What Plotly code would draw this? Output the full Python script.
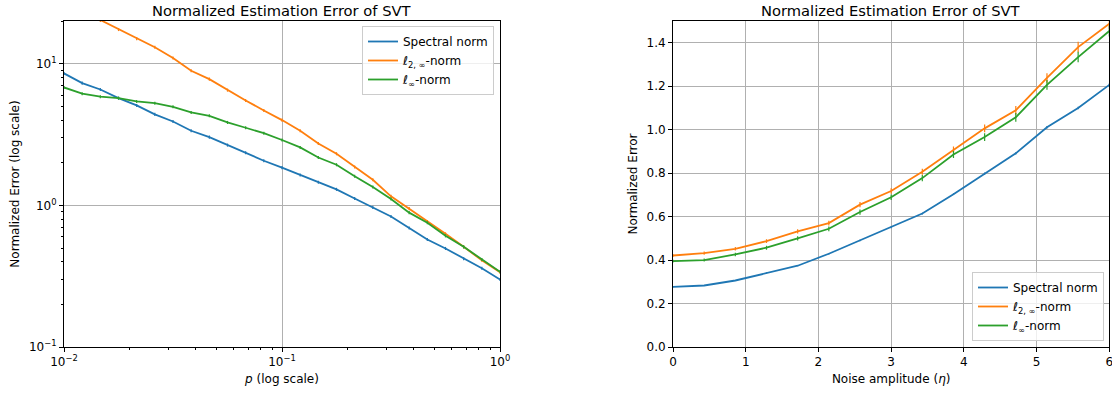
import numpy as np
import plotly.graph_objects as go

# ---------------- data ----------------
p_values = [10 ** (-2 + 2 * i / 24) for i in range(25)]
spectral_p = [8.57, 7.32, 6.6, 5.73, 5.09, 4.40, 3.92, 3.37, 3.04, 2.67, 2.36, 2.07, 1.85,
              1.64, 1.46, 1.30, 1.12, 0.97, 0.836, 0.693, 0.575, 0.497, 0.42, 0.36, 0.30]
l2inf_p = [27.5, 23.7, 20.3, 17.5, 15.1, 13.1, 11.0, 8.95, 7.81, 6.53, 5.52, 4.69, 4.01,
           3.37, 2.74, 2.32, 1.87, 1.52, 1.16, 0.95, 0.77, 0.63, 0.51, 0.41, 0.338]
linf_p = [6.82, 6.16, 5.87, 5.73, 5.43, 5.28, 4.98, 4.54, 4.30, 3.86, 3.54, 3.24, 2.90,
          2.57, 2.18, 1.94, 1.61, 1.35, 1.11, 0.89, 0.755, 0.61, 0.51, 0.415, 0.34]

eta_values = [6 * i / 14 for i in range(15)]
spectral_eta = [0.277, 0.283, 0.306, 0.341, 0.374, 0.429, 0.490, 0.550, 0.614, 0.703,
                0.798, 0.891, 1.011, 1.100, 1.206]
l2inf_eta = [0.421, 0.432, 0.452, 0.487, 0.532, 0.570, 0.655, 0.718, 0.806, 0.907,
             1.006, 1.089, 1.238, 1.380, 1.487]
linf_eta = [0.395, 0.400, 0.426, 0.457, 0.500, 0.544, 0.621, 0.689, 0.777, 0.886,
            0.966, 1.057, 1.206, 1.334, 1.454]
spectral_eta_err = [0.002, 0.002, 0.002, 0.003, 0.003, 0.003, 0.003, 0.004, 0.004, 0.004,
                    0.005, 0.005, 0.006, 0.006, 0.006]
l2inf_eta_err = [0.006, 0.007, 0.008, 0.009, 0.010, 0.011, 0.012, 0.013, 0.014, 0.016,
                 0.018, 0.020, 0.022, 0.024, 0.025]
linf_eta_err = [0.006, 0.007, 0.008, 0.009, 0.010, 0.011, 0.012, 0.013, 0.014, 0.016,
                0.018, 0.020, 0.022, 0.024, 0.025]

series_names = ["Spectral norm", "<i>ℓ</i><sub>2, ∞</sub>-norm", "<i>ℓ</i><sub>∞</sub>-norm"]
colors = ["#1f77b4", "#ff7f0e", "#2ca02c"]
title_text = "Normalized Estimation Error of SVT"

# ---------------- figure ----------------
fig = go.Figure()
FONT = "DejaVu Sans"

for name, vals, col in zip(series_names, [spectral_p, l2inf_p, linf_p], colors):
    err = [v * 0.025 for v in vals]
    fig.add_trace(go.Scatter(
        x=p_values, y=vals, mode="lines", name=name,
        line=dict(color=col, width=1.8),
        error_y=dict(type="data", array=err, color=col, thickness=1.2, width=0),
        xaxis="x", yaxis="y", legend="legend"))

for name, vals, errs, col in zip(series_names, [spectral_eta, l2inf_eta, linf_eta],
                                 [spectral_eta_err, l2inf_eta_err, linf_eta_err], colors):
    fig.add_trace(go.Scatter(
        x=eta_values, y=vals, mode="lines", name=name,
        line=dict(color=col, width=1.8),
        error_y=dict(type="data", array=errs, color=col, thickness=1.2, width=0),
        xaxis="x2", yaxis="y2", legend="legend2"))

H = 393
W = 1112
ydom = [(H - 347) / H, (H - 21) / H]
axis_common = dict(
    showline=True, linecolor="black", linewidth=1, mirror=True,
    ticks="outside", ticklen=4, tickwidth=1, tickcolor="black",
    showgrid=True, gridcolor="#b0b0b0", gridwidth=0.8,
    zeroline=False, automargin=False, ticklabeloverflow="allow",
    tickfont=dict(family=FONT, size=12, color="black"),
)

minor_x = [m * 10 ** e for e in (-2, -1) for m in range(2, 10)]
minor_y = [m * 10 ** e for e in (-1, 0, 1) for m in range(2, 10) if m * 10 ** e <= 20]

fig.update_layout(
    width=W, height=H,
    margin=dict(l=0, r=0, t=0, b=0),
    paper_bgcolor="white", plot_bgcolor="white",
    font=dict(family=FONT, size=12, color="black"),
    xaxis=dict(axis_common, type="log", domain=[64 / W, 500 / W], range=[-2, 0],
               tickvals=[0.01, 0.1, 1],
               ticktext=["10<sup>−2</sup>", "10<sup>−1</sup>", "10<sup>0</sup>"],
               minor=dict(tickvals=minor_x, ticks="outside", ticklen=2, tickcolor="black",
                          showgrid=False),
               title=dict(text="<i>p</i> (log scale)", font=dict(family=FONT, size=12),
                          standoff=6),
               anchor="y"),
    yaxis=dict(axis_common, type="log", domain=ydom, range=[-1, np.log10(20.1)],
               tickvals=[0.1, 1, 10],
               ticktext=["10<sup>−1</sup>", "10<sup>0</sup>", "10<sup>1</sup>"],
               minor=dict(tickvals=minor_y, ticks="outside", ticklen=2, tickcolor="black",
                          showgrid=False),
               title=dict(text="Normalized Error (log scale)", font=dict(family=FONT, size=12),
                          standoff=6),
               anchor="x"),
    xaxis2=dict(axis_common, domain=[673 / W, 1109.3 / W], range=[0, 6],
                tickvals=[0, 1, 2, 3, 4, 5, 6],
                title=dict(text="Noise amplitude (<i>η</i>)", font=dict(family=FONT, size=12),
                           standoff=6),
                anchor="y2"),
    yaxis2=dict(axis_common, domain=ydom, range=[0, 1.5],
                tickvals=[0, 0.2, 0.4, 0.6, 0.8, 1.0, 1.2, 1.4],
                ticktext=["0.0", "0.2", "0.4", "0.6", "0.8", "1.0", "1.2", "1.4"],
                title=dict(text="Normalized Error", font=dict(family=FONT, size=12),
                           standoff=6),
                anchor="x2"),
    legend=dict(x=494 / W, y=(H - 26) / H, xanchor="right", yanchor="top",
                bgcolor="rgba(255,255,255,0.8)", bordercolor="#cccccc", borderwidth=1,
                font=dict(family=FONT, size=12), itemwidth=30, tracegroupgap=0),
    legend2=dict(x=1104 / W, y=(H - 341) / H, xanchor="right", yanchor="bottom",
                 bgcolor="rgba(255,255,255,0.8)", bordercolor="#cccccc", borderwidth=1,
                 font=dict(family=FONT, size=12), itemwidth=30, tracegroupgap=0),
    showlegend=True,
)

for xc in [(64 + 500) / 2 / W, (673 + 1109.3) / 2 / W]:
    fig.add_annotation(text=title_text, x=xc, y=(H - 10) / H, xref="paper", yref="paper",
                       showarrow=False, font=dict(family=FONT, size=14.7, color="black"),
                       xanchor="center", yanchor="middle")

fig.write_html("out.html")
